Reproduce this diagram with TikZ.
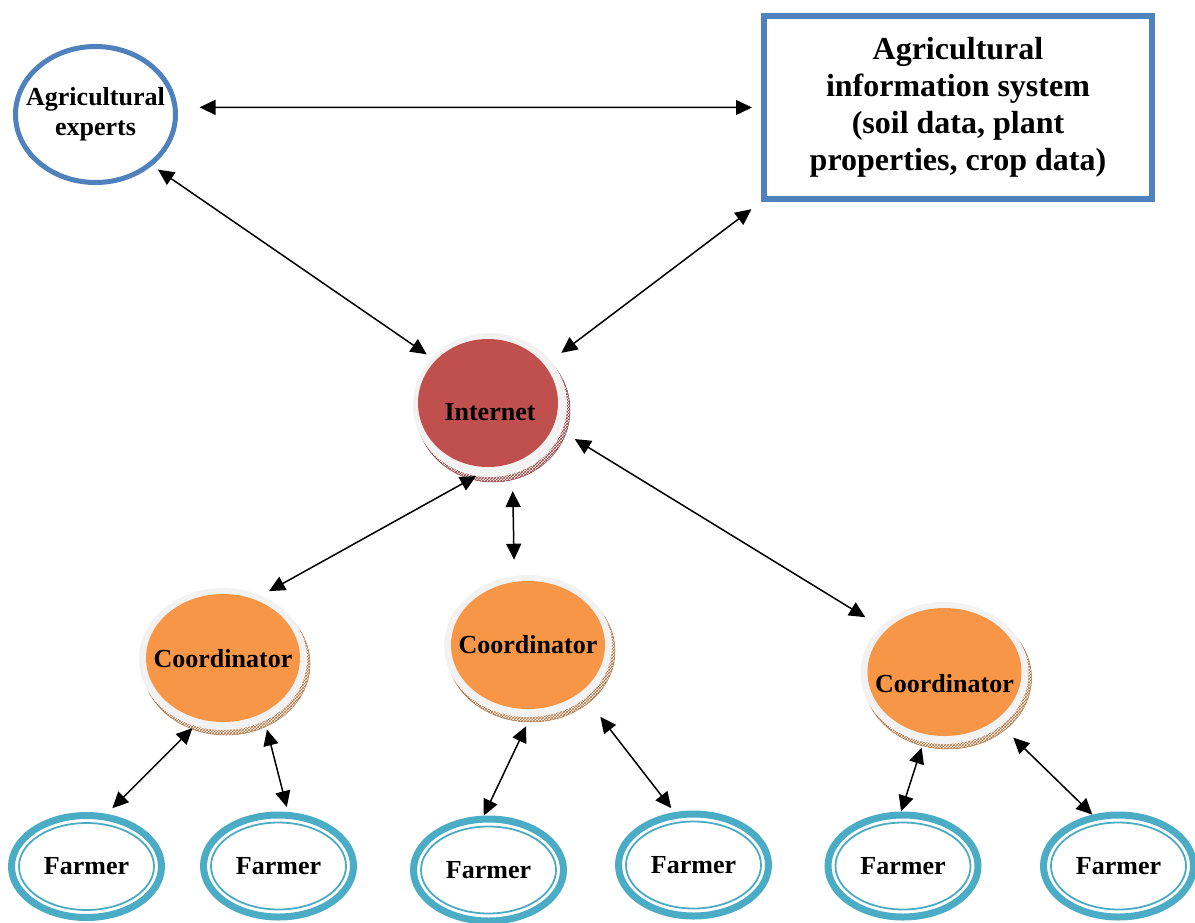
\documentclass[tikz,border=0pt]{standalone}
\usepackage{fontspec}
\setmainfont{Liberation Serif}
\usetikzlibrary{shapes.geometric, arrows.meta, shadows, patterns}

\definecolor{expertblue}{HTML}{4F81BD}
\definecolor{farmerteal}{HTML}{4BACC6}
\definecolor{ringgray}{HTML}{F2F2F2}
\definecolor{inetred}{HTML}{C0504D}
\definecolor{inetedge}{HTML}{8E3B3A}
\definecolor{coordorange}{HTML}{F79646}
\definecolor{coordedge}{HTML}{B0703C}

\newcommand{\disctext}[2]{\makebox[0pt]{\raisebox{-#1}[0pt][0pt]{#2}}}

\begin{document}
\begin{tikzpicture}[x=1pt, y=-1pt,
        every node/.style={font=\bfseries\fontsize{26}{30}\selectfont},
        expert/.style={ellipse, draw=expertblue, line width=5pt, fill=white, inner sep=0, minimum width=160pt, minimum height=136pt, align=center},
        infobox/.style={rectangle, draw=expertblue, line width=6pt, fill=white, minimum width=388pt, minimum height=183pt, align=center, font=\bfseries\fontsize{32}{37}\selectfont},
        hub/.style={ellipse, fill=ringgray, inner sep=0, minimum width=154pt, minimum height=144pt,
            general shadow={shadow xshift=3pt, shadow yshift=-5pt, draw=inetedge, line width=0.5pt, pattern=crosshatch, pattern color=inetedge},
            path picture={\fill[inetred] ([shift={(-2pt,2pt)}]path picture bounding box.center) ellipse (70pt and 64pt);}},
        coord/.style={ellipse, fill=ringgray, inner sep=0, minimum width=168pt, minimum height=142pt,
            general shadow={shadow xshift=3pt, shadow yshift=-5pt, draw=coordedge, line width=0.5pt, pattern=crosshatch, pattern color=coordedge},
            path picture={\fill[coordorange] ([shift={(0pt,1pt)}]path picture bounding box.center) ellipse (77pt and 64pt);}},
        farmer/.style={ellipse, draw=farmerteal, line width=7pt, fill=white, minimum width=150pt, minimum height=102pt,
            path picture={\draw[farmerteal, line width=1.8pt] (path picture bounding box.center) ellipse (67.5pt and 43.5pt);}},
        link/.style={{Triangle[length=16pt,width=15pt]}-{Triangle[length=16pt,width=15pt]}, line width=1.5pt}
    ]
        \useasboundingbox (0,0) rectangle (1195,922);

        % top row: experts and the information system
        \node[expert] (experts) at (95.5,114.5) {\raisebox{5pt}{\makebox[0pt]{Agricultural}}\\\raisebox{5pt}{\makebox[0pt]{experts}}};
        \node[infobox] (infosys) at (958,107.5) {Agricultural\\information system\\(soil data, plant\\properties, crop data)};

        % hub
        \node[hub] (internet) at (490,405) {\disctext{15.6pt}{Internet}};

        % coordinators
        \node[coord] (coord1) at (223,659) {\disctext{8.6pt}{Coordinator}};
        \node[coord] (coord2) at (528,646) {\disctext{7pt}{Coordinator}};
        \node[coord] (coord3) at (944.5,673) {\disctext{19.6pt}{Coordinator}};

        % farmers
        \node[farmer] (farmer1) at (86.5,866.5) {Farmer};
        \node[farmer] (farmer2) at (278.5,866) {Farmer};
        \node[farmer] (farmer3) at (488.5,870) {Farmer};
        \node[farmer] (farmer4) at (693.5,865) {Farmer};
        \node[farmer] (farmer5) at (903,866) {Farmer};
        \node[farmer] (farmer6) at (1118.5,866) {Farmer};

        % links
        \draw[link, shorten <=22pt, shorten >=9pt] (experts.5) -- (infosys.west);
        \draw[link, shorten <=7pt, shorten >=6pt] (experts.-42) -- (internet.141);
        \draw[link, shorten <=12pt, shorten >=13pt] (infosys.south west) -- (internet.36);
        \draw[link, shorten >=9pt] (internet.-101) -- (coord1.59);
        \draw[link, shorten <=17pt, shorten >=16pt] (internet.-72) -- (coord2.101);
        \draw[link, shorten <=15pt, shorten >=18pt] (internet.-20) -- (coord3.144);
        \draw[link, shorten <=3pt, shorten >=8pt] (coord1.-113) -- (farmer1.69);
        \draw[link, shorten <=9pt, shorten >=5pt] (coord1.-56) -- (farmer2.80);
        \draw[link, shorten <=10pt] (coord2.-88) -- (farmer3.95);
        \draw[link, shorten <=24pt, shorten >=5pt] (coord2.-42) -- (farmer4.110);
        \draw[link, shorten <=6pt] (coord3.-107) -- (farmer5.92);
        \draw[link, shorten <=17pt] (coord3.-43.5) -- (farmer6.117);

    \end{tikzpicture}
\end{document}
